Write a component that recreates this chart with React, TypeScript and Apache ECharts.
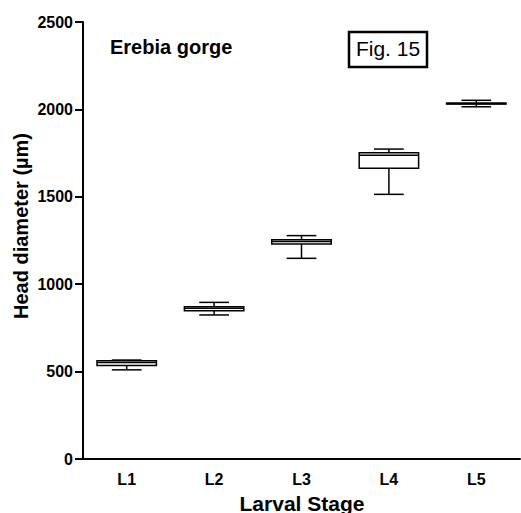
import React, { useEffect, useRef } from "react";
import * as echarts from "echarts";

const categories = ["L1", "L2", "L3", "L4", "L5"];
// [min, Q1, median, Q3, max]
const boxData = [
  [510, 535, 552, 562, 566],
  [824, 848, 862, 871, 896],
  [1148, 1230, 1244, 1255, 1278],
  [1514, 1663, 1737, 1752, 1773],
  [2015, 2031, 2033, 2036, 2052],
];
const yTicks = [0, 500, 1000, 1500, 2000, 2500];

const FONT = "'Liberation Sans', Arial, Helvetica, sans-serif";

export default function App() {
  const ref = useRef<HTMLDivElement>(null);
  useEffect(() => {
    const chart = echarts.init(ref.current!, null, { renderer: "svg" });
    chart.setOption({
      animation: false,
      backgroundColor: "#fff",
      grid: { left: 83, right: 1, top: 22, bottom: 54, containLabel: false },
      xAxis: {
        type: "category",
        data: categories,
        boundaryGap: true,
        axisLine: { lineStyle: { color: "#000", width: 2 } },
        axisTick: { alignWithLabel: true, length: 7, lineStyle: { color: "#000", width: 2 } },
        axisLabel: { color: "#000", fontFamily: FONT, fontWeight: "bold", fontSize: 16, margin: 12 },
        splitLine: { show: false },
      },
      yAxis: {
        type: "value",
        min: yTicks[0],
        max: yTicks[yTicks.length - 1],
        interval: yTicks[1] - yTicks[0],
        axisLine: { show: true, lineStyle: { color: "#000", width: 2 } },
        axisTick: { show: true, length: 8, lineStyle: { color: "#000", width: 2 } },
        axisLabel: {
          color: "#000",
          fontFamily: FONT,
          fontWeight: "bold",
          fontSize: 16,
          margin: 10,
          formatter: (v: number) => String(v),
        },
        splitLine: { show: false },
      },
      series: [
        {
          type: "custom",
          data: boxData.map((d, i) => [i, ...d]),
          encode: { x: 0, y: [1, 2, 3, 4, 5] },
          renderItem: (params: any, api: any) => {
            const x = api.value(0);
            const vals = [1, 2, 3, 4, 5].map((k) => api.coord([x, api.value(k)]));
            const cx = vals[0][0];
            const band = api.size([1, 0])[0];
            const bw = band * 0.68;
            const cw = bw * 0.5;
            const [pMin, pQ1, pMed, pQ3, pMax] = vals.map((v: number[]) => v[1]);
            const ls = { stroke: "#000", lineWidth: 1.5, fill: null };
            return {
              type: "group",
              children: [
                { type: "line", shape: { x1: cx, y1: pMin, x2: cx, y2: pQ1 }, style: ls },
                { type: "line", shape: { x1: cx, y1: pQ3, x2: cx, y2: pMax }, style: ls },
                { type: "line", shape: { x1: cx - cw / 2, y1: pMin, x2: cx + cw / 2, y2: pMin }, style: ls },
                { type: "line", shape: { x1: cx - cw / 2, y1: pMax, x2: cx + cw / 2, y2: pMax }, style: ls },
                {
                  type: "rect",
                  shape: { x: cx - bw / 2, y: pQ3, width: bw, height: pQ1 - pQ3 },
                  style: { stroke: "#000", lineWidth: 1.5, fill: "#fff" },
                },
                { type: "line", shape: { x1: cx - bw / 2, y1: pMed, x2: cx + bw / 2, y2: pMed }, style: ls },
              ],
            };
          },
        },
      ],
      graphic: [
        {
          type: "text",
          x: 21,
          y: 226,
          rotation: Math.PI / 2,
          style: {
            text: "Head diameter (µm)",
            font: `bold 20px ${FONT}`,
            fill: "#000",
            align: "center",
            verticalAlign: "middle",
          },
        },
        {
          type: "text",
          x: 302,
          y: 503,
          style: {
            text: "Larval Stage",
            font: `bold 21px ${FONT}`,
            fill: "#000",
            align: "center",
            verticalAlign: "middle",
          },
        },
        {
          type: "text",
          x: 110,
          y: 47,
          style: {
            text: "Erebia gorge",
            font: `bold 20px ${FONT}`,
            fill: "#000",
            align: "left",
            verticalAlign: "middle",
          },
        },
        {
          type: "rect",
          shape: { x: 349, y: 32, width: 78, height: 35 },
          style: { stroke: "#000", lineWidth: 2.5, fill: "#fff" },
        },
        {
          type: "text",
          x: 388,
          y: 48,
          style: {
            text: "Fig. 15",
            font: `21px ${FONT}`,
            fill: "#000",
            align: "center",
            verticalAlign: "middle",
          },
        },
      ],
    });
    return () => chart.dispose();
  }, []);
  return <div ref={ref} style={{ width: 521, height: 513, position: "absolute", left: 0, top: 0 }} />;
}
